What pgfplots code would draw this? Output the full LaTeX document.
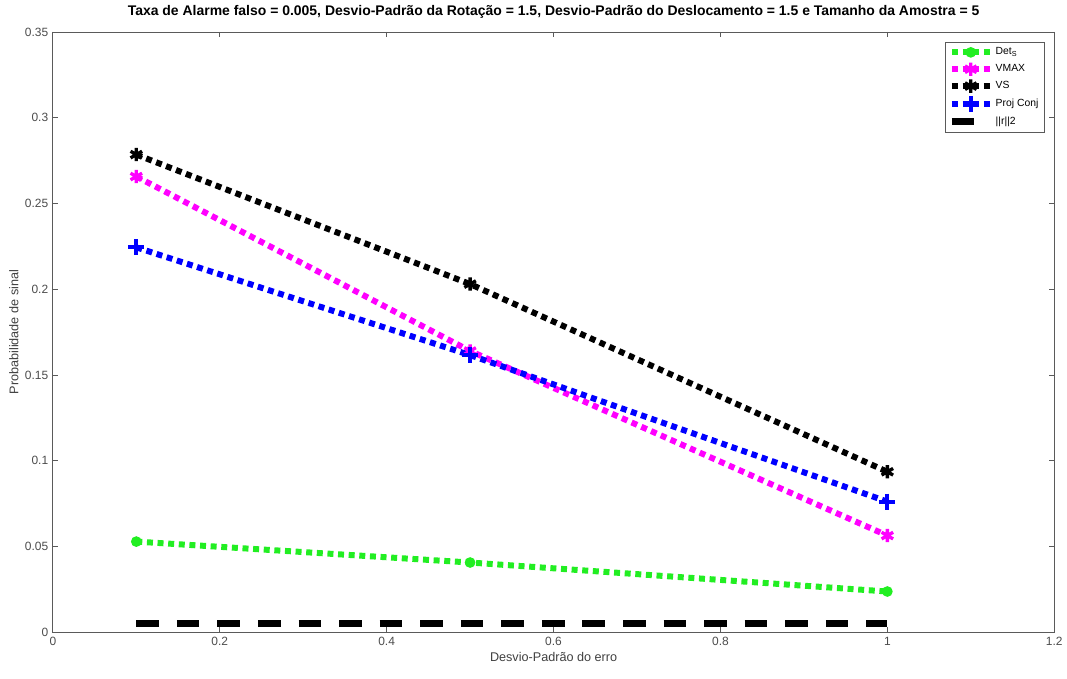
\documentclass[border=0pt]{standalone}
\usepackage{pgfplots}
\pgfplotsset{compat=1.18}
\usepackage{fontspec}
\setmainfont{Liberation Sans}
\definecolor{mgreen}{RGB}{34,238,34}
\definecolor{mmag}{RGB}{255,0,255}
\definecolor{mblue}{RGB}{0,0,255}
\definecolor{axgray}{RGB}{90,90,90}
\begin{document}
\begin{tikzpicture}
\begin{axis}[
  name=ax,
  scale only axis,
  width=753pt, height=451.5pt,
  xmin=0, xmax=1.2, ymin=0, ymax=0.35,
  xtick={0,0.2,0.4,0.6,0.8,1,1.2},
  ytick={0,0.05,0.1,0.15,0.2,0.25,0.3,0.35},
  xticklabels={0,0.2,0.4,0.6,0.8,1,1.2},
  yticklabels={0,0.05,0.1,0.15,0.2,0.25,0.3,0.35},
  tick align=inside, tick pos=both,
  major tick length=4pt,
  axis line style={axgray, line width=0.6pt},
  every tick/.style={axgray, line width=0.6pt},
  tick label style={font=\fontsize{9}{10}\selectfont, text=black!70},
  xlabel={Desvio-Padrão do erro},
  ylabel={Probabilidade de sinal},
  label style={font=\fontsize{9.5}{11}\selectfont, text=black!75},
  xlabel style={yshift=2pt},
  ylabel style={yshift=-2pt},
  title={Taxa de Alarme falso = 0.005, Desvio-Padrão da Rotação = 1.5, Desvio-Padrão do Deslocamento = 1.5 e Tamanho da Amostra = 5},
  title style={font=\bfseries\fontsize{10.5}{12}\selectfont, yshift=0.5pt},
  legend style={at={(1,1)}, anchor=north east, xshift=-7.5pt, yshift=-7.5pt,
    font=\fontsize{7.8}{9}\selectfont, draw=axgray, line width=0.5pt,
    row sep=1.8pt, inner sep=2.2pt},
  legend cell align=left,
  legend image code/.code={\draw[mark repeat=2,mark phase=2] plot coordinates {(0cm,0cm) (0.5cm,0cm) (1cm,0cm)};},
  every axis plot/.append style={line cap=butt},
]
\addplot[mgreen, line width=4.5pt, dash pattern=on 4.5pt off 3.5pt, mark=*, mark size=3.5pt, mark options={solid, line width=1pt}]
  coordinates {(0.1,0.0529) (0.5,0.0407) (1,0.0238)};
\addlegendentry{Det\textsubscript{S}}
\addplot[mmag, line width=4.5pt, dash pattern=on 4.5pt off 3.5pt, mark=asterisk, mark size=5pt, mark options={solid, line width=2.5pt}]
  coordinates {(0.1,0.2657) (0.5,0.1640) (1,0.0564)};
\addlegendentry{VMAX}
\addplot[black, line width=4.5pt, dash pattern=on 4.5pt off 3.5pt, mark=asterisk, mark size=5pt, mark options={solid, line width=2.5pt}]
  coordinates {(0.1,0.2785) (0.5,0.2030) (1,0.0936)};
\addlegendentry{VS}
\addplot[mblue, line width=4.5pt, dash pattern=on 4.5pt off 3.5pt, mark=+, mark size=6pt, mark options={solid, line width=3pt}]
  coordinates {(0.1,0.2244) (0.5,0.1616) (1,0.0762)};
\addlegendentry{Proj Conj}
\addplot[black, line width=5pt, dash pattern=on 17pt off 13.5pt]
  coordinates {(0.1,0.005) (0.5,0.005) (1,0.005)};
\addlegendentry{||r||2}
\end{axis}
\path[use as bounding box] ([xshift=-39.75pt,yshift=-34.5pt]ax.south west) rectangle ([xshift=7.5pt,yshift=24pt]ax.north east);
\end{tikzpicture}
\end{document}
